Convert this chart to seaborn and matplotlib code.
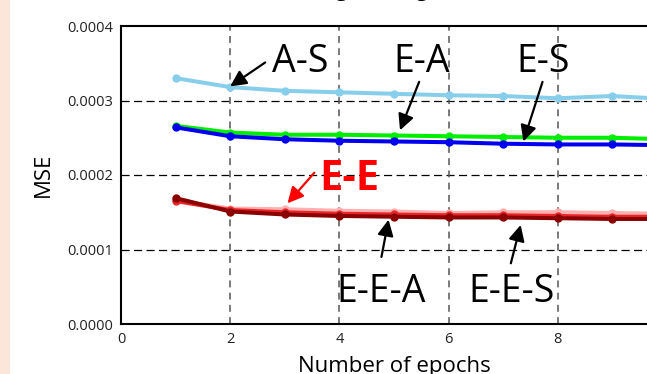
import matplotlib
matplotlib.use("Agg")
import matplotlib.pyplot as plt
import matplotlib.patches as mpatches
import numpy as np
import pandas as pd
import seaborn as sns

EPOCHS = [1, 2, 3, 4, 5, 6, 7, 8, 9, 10]

AS_MSE = [3.30e-4, 3.18e-4, 3.13e-4, 3.11e-4, 3.09e-4, 3.07e-4, 3.06e-4, 3.03e-4, 3.06e-4, 3.02e-4]
EA_MSE = [2.66e-4, 2.57e-4, 2.54e-4, 2.54e-4, 2.53e-4, 2.52e-4, 2.51e-4, 2.50e-4, 2.50e-4, 2.48e-4]
ES_MSE = [2.64e-4, 2.52e-4, 2.48e-4, 2.46e-4, 2.45e-4, 2.44e-4, 2.42e-4, 2.41e-4, 2.41e-4, 2.40e-4]
EEA_MSE = [1.66e-4, 1.55e-4, 1.54e-4, 1.52e-4, 1.51e-4, 1.49e-4, 1.50e-4, 1.50e-4, 1.49e-4, 1.48e-4]
EE_MSE = [1.65e-4, 1.53e-4, 1.50e-4, 1.48e-4, 1.47e-4, 1.46e-4, 1.46e-4, 1.45e-4, 1.44e-4, 1.44e-4]
EES_MSE = [1.69e-4, 1.51e-4, 1.47e-4, 1.45e-4, 1.44e-4, 1.43e-4, 1.43e-4, 1.42e-4, 1.41e-4, 1.41e-4]

# draw order: first is at the bottom
SERIES = {
    "E-E-A": EEA_MSE,
    "E-E": EE_MSE,
    "E-E-S": EES_MSE,
    "E-A": EA_MSE,
    "E-S": ES_MSE,
    "A-S": AS_MSE,
}
COLORS = {
    "E-E-A": "#ffb0b0",
    "E-E": "#e8262a",
    "E-E-S": "#8b0000",
    "E-A": "#00ee00",
    "E-S": "#0000ee",
    "A-S": "#87ceeb",
}

X_TICKS = [0, 2, 4, 6, 8]
Y_TICKS = [0.0, 0.0001, 0.0002, 0.0003, 0.0004]

sns.set_style("white")
plt.rcParams["font.family"] = ["Open Sans", "DejaVu Sans"]
plt.rcParams["text.color"] = "black"

rows = []
for name, vals in SERIES.items():
    for e, v in zip(EPOCHS, vals):
        rows.append({"epoch": e, "mse": v, "model": name})
df = pd.DataFrame(rows)

fig = plt.figure(figsize=(6.47, 3.74), dpi=100)
fig.patches.append(mpatches.Rectangle((0, 0), 9 / 647, 1, transform=fig.transFigure,
                                      color="#fce6da", zorder=0))
ax = fig.add_axes([121 / 647, 50 / 374, 546 / 647, 298 / 374])

for y in Y_TICKS[1:4]:
    ax.axhline(y, color="black", lw=0.9, ls=(0, (6.5, 3.5)), zorder=1)
for x in X_TICKS[1:]:
    ax.axvline(x, color="#555555", lw=1.1, ls=(0, (4.5, 3.5)), zorder=1)

sns.lineplot(data=df, x="epoch", y="mse", hue="model", hue_order=list(SERIES.keys()),
             palette=COLORS, marker="o", markersize=6, markeredgewidth=0, lw=2.9,
             legend=False, ax=ax, zorder=3)

ax.set_xlim(0, 10)
ax.set_ylim(0, 0.0004)
ax.set_xticks(X_TICKS)
ax.set_yticks(Y_TICKS)
ax.set_yticklabels([f"{v:.4f}" for v in Y_TICKS])
ax.tick_params(axis="both", labelsize=10.5, length=0, colors="#222222", pad=6)
ax.tick_params(axis="x", pad=6)
for s in ["left", "top", "bottom", "right"]:
    ax.spines[s].set_color("black")
    ax.spines[s].set_linewidth(1.5)
ax.set_xlabel("Number of epochs", fontsize=16, labelpad=6, color="black")
ax.set_ylabel("MSE", fontsize=16, labelpad=9, color="black")

fig.text(163 / 647, 1 + 4 / 374, "(b) MSE loss during training", fontsize=15, va="baseline")

arrow = dict(arrowstyle="-|>", color="black", lw=1.6, mutation_scale=24, shrinkA=0, shrinkB=0)
red_arrow = dict(arrow, color="#ff0000")

ax.annotate("", xy=(2.0, 3.19e-4), xytext=(2.64, 3.51e-4), arrowprops=arrow)
ax.text(2.77, 3.52e-4, "A-S", fontsize=27, va="center", ha="left")
ax.annotate("", xy=(5.11, 2.60e-4), xytext=(5.46, 3.25e-4), arrowprops=arrow)
ax.text(5.51, 3.52e-4, "E-A", fontsize=27, va="center", ha="center")
ax.annotate("", xy=(7.37, 2.45e-4), xytext=(7.72, 3.25e-4), arrowprops=arrow)
ax.text(7.73, 3.52e-4, "E-S", fontsize=27, va="center", ha="center")
ax.annotate("", xy=(3.05, 1.62e-4), xytext=(3.54, 2.03e-4), arrowprops=red_arrow)
ax.text(3.64, 1.94e-4, "E-E", fontsize=30, fontweight="bold", color="#ff0000",
        va="center", ha="left")
ax.annotate("", xy=(4.90, 1.40e-4), xytext=(4.77, 0.90e-4), arrowprops=arrow)
ax.text(4.76, 0.43e-4, "E-E-A", fontsize=27, va="center", ha="center")
ax.annotate("", xy=(7.32, 1.33e-4), xytext=(7.14, 0.815e-4), arrowprops=arrow)
ax.text(7.16, 0.43e-4, "E-E-S", fontsize=27, va="center", ha="center")

fig.savefig("out.png", dpi=100)
